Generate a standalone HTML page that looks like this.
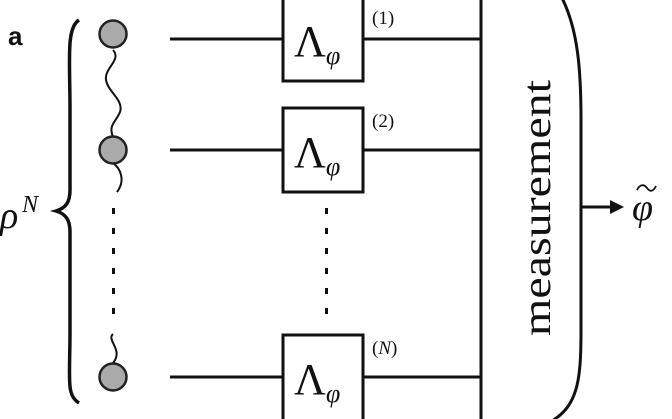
<!DOCTYPE html>
<html><head><style>body{margin:0;background:#fff}svg{display:block}text{font-family:"Liberation Serif",serif}</style></head><body>
<svg width="672" height="419" viewBox="0 0 672 419" xmlns="http://www.w3.org/2000/svg">
<g stroke="#111" stroke-width="3" fill="none">
<path d="M79 20 C66 28 70 60 70 110 L70 190 C70 202 66 208 56 211 C66 214 70 220 70 232 L70 330 C70 380 66 395 79 403" stroke-width="3.5"/>
<path d="M113 50 C122 60 104 68 106 80 C108 92 124 100 120 112 C116 122 108 125 113 137" stroke-width="2"/>
<path d="M113 163 C120 168 126 180 117 192" stroke-width="2"/>
<path d="M113 334 C106 340 124 350 113 363" stroke-width="2"/>
<line x1="170" y1="39" x2="283" y2="39"/>
<line x1="170" y1="150" x2="283" y2="150"/>
<line x1="170" y1="377" x2="283" y2="377"/>
<rect x="283" y="-5" width="80" height="86"/>
<rect x="283" y="108" width="80" height="84"/>
<rect x="283" y="335" width="80" height="90"/>
<line x1="363" y1="39" x2="481" y2="39"/>
<line x1="363" y1="150" x2="481" y2="150"/>
<line x1="363" y1="377" x2="481" y2="377"/>
<path d="M481 -2 L481 421 M562 -2 C578 30 581 70 581 120 L581 330 C581 380 578 405 552 421"/>
<line x1="581" y1="207" x2="612" y2="207"/>
<path d="M637 190 C640 184 644 184 647 188 C650 192 653 192 656 186" stroke-width="1.8"/>
</g>
<polygon points="610,200 624,207 610,214" fill="#111"/>
<g fill="#111">
<rect x="112" y="208" width="3" height="6"/><rect x="112" y="228" width="3" height="6"/><rect x="112" y="248" width="3" height="6"/><rect x="112" y="268" width="3" height="6"/><rect x="112" y="288" width="3" height="6"/><rect x="112" y="308" width="3" height="6"/>
<rect x="325" y="208" width="3" height="6"/><rect x="325" y="228" width="3" height="6"/><rect x="325" y="248" width="3" height="6"/><rect x="325" y="268" width="3" height="6"/><rect x="325" y="288" width="3" height="6"/><rect x="325" y="308" width="3" height="6"/>
</g>
<g fill="#aaa" stroke="#222" stroke-width="2.5">
<circle cx="113" cy="34" r="13.5"/><circle cx="113" cy="150" r="13.5"/><circle cx="113" cy="377" r="13.5"/>
</g>
<text x="8" y="45" style="font-family:'Liberation Sans',sans-serif" font-weight="bold" font-size="26" fill="#111">a</text>
<text x="0" y="228" font-size="38" font-style="italic" fill="#111">ρ</text>
<text x="22" y="212" font-size="24" font-style="italic" fill="#111">N</text>
<g fill="#111" font-size="44">
<text x="294" y="56">Λ<tspan font-size="26" font-style="italic" dy="8">φ</tspan></text>
<text x="294" y="167">Λ<tspan font-size="26" font-style="italic" dy="8">φ</tspan></text>
<text x="294" y="394">Λ<tspan font-size="26" font-style="italic" dy="8">φ</tspan></text>
</g>
<g fill="#111" font-size="19">
<text x="372" y="24">(1)</text><text x="372" y="127">(2)</text><text x="372" y="354">(<tspan font-style="italic">N</tspan>)</text>
</g>
<text transform="translate(550,208) rotate(-90)" text-anchor="middle" font-size="40" fill="#111" textLength="256" lengthAdjust="spacingAndGlyphs">measurement</text>
<text x="632" y="220" font-size="38" font-style="italic" fill="#111">φ</text>
</svg>
</body></html>
